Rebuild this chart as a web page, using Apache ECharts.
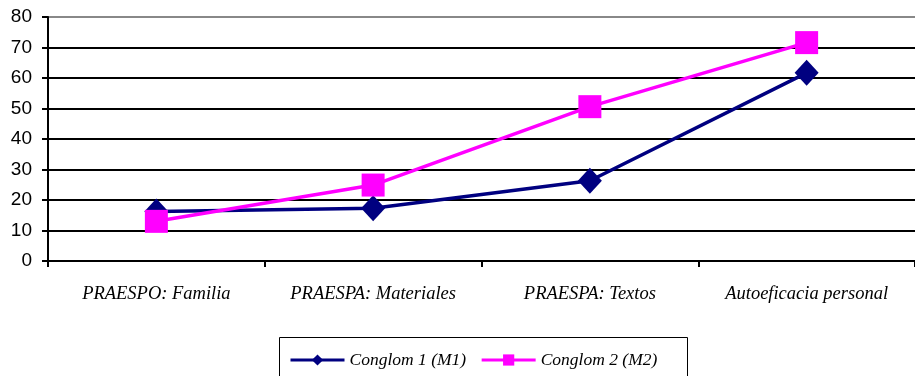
<!DOCTYPE html>
<html><head><meta charset="utf-8">
<script src="https://cdn.jsdelivr.net/npm/echarts@6/dist/echarts.min.js"></script>
<style>html,body{margin:0;padding:0;background:#fff}#c{width:915px;height:376px}</style>
</head><body><div id="c"></div>
<script>
const categories = ['PRAESPO: Familia', 'PRAESPA: Materiales', 'PRAESPA: Textos', 'Autoeficacia personal'];
const seriesNames = ['Conglom 1 (M1)', 'Conglom 2 (M2)'];
const m1 = [16.2, 17.3, 26.3, 61.7];
const m2 = [13.0, 24.9, 50.6, 71.6];
const yTicks = [0, 10, 20, 30, 40, 50, 60, 70, 80];

const chart = echarts.init(document.getElementById('c'), null, {renderer: 'canvas'});
chart.setOption({
  animation: false,
  backgroundColor: '#fff',
  grid: {left: 48, right: -8, top: 17, bottom: 115, containLabel: false},
  graphic: [{
    type: 'rect', left: 277, top: 335, shape: {width: 408, height: 45},
    style: {fill: 'none', stroke: '#000', lineWidth: 1}, z: 0
  }],
  legend: {
    data: seriesNames, left: 284, top: 346, itemWidth: 54, itemHeight: 14, itemGap: 14,
    lineStyle: {width: 3},
    textStyle: {fontFamily: 'Liberation Serif', fontStyle: 'italic', fontSize: 17.5, color: '#000'}
  },
  xAxis: {
    type: 'category', data: categories, boundaryGap: true,
    axisLine: {lineStyle: {color: '#000', width: 2}},
    axisTick: {show: true, length: 6, lineStyle: {color: '#000', width: 2}},
    axisLabel: {margin: 24, color: '#000', fontFamily: 'Liberation Serif', fontStyle: 'italic', fontSize: 18.5}
  },
  yAxis: {
    type: 'value', min: yTicks[0], max: yTicks[yTicks.length - 1], interval: 10,
    axisLine: {show: true, lineStyle: {color: '#000', width: 2}},
    axisTick: {show: true, length: 6, lineStyle: {color: '#000', width: 2}},
    axisLabel: {margin: 16, color: '#000', fontFamily: 'Liberation Sans', fontSize: 19},
    splitLine: {lineStyle: {color: ['#000', '#000', '#000', '#000', '#000', '#000', '#000', '#000', '#888'], width: 2}}
  },
  series: [
    {name: seriesNames[0], type: 'line', data: m1, symbol: 'diamond', symbolSize: [24, 26],
     lineStyle: {color: '#000080', width: 3.5}, itemStyle: {color: '#000080'}, z: 3},
    {name: seriesNames[1], type: 'line', data: m2, symbol: 'rect', symbolSize: 23,
     lineStyle: {color: '#FF00FF', width: 3.5}, itemStyle: {color: '#FF00FF'}, z: 4}
  ]
});
</script></body></html>
